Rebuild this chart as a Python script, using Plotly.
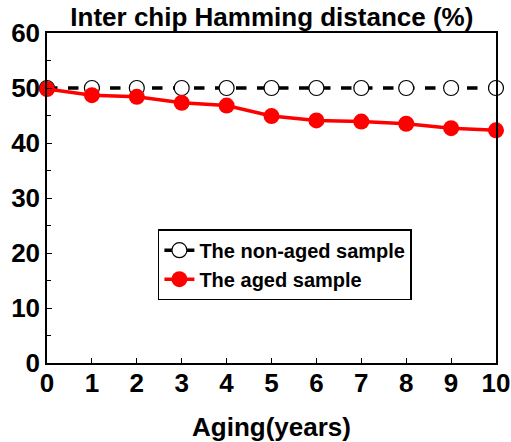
import plotly.graph_objects as go

years = [0, 1, 2, 3, 4, 5, 6, 7, 8, 9, 10]
non_aged = [50, 50, 50, 50, 50, 50, 50, 50, 50, 50, 50]
aged = [49.8, 48.7, 48.4, 47.3, 46.8, 44.9, 44.1, 43.9, 43.5, 42.7, 42.3]
x_ticks = [0, 1, 2, 3, 4, 5, 6, 7, 8, 9, 10]
y_ticks = [0, 10, 20, 30, 40, 50, 60]

font = "Liberation Sans, Arial, sans-serif"

fig = go.Figure()
fig.add_trace(go.Scatter(
    x=years, y=non_aged, mode="lines+markers", name="<b>The non-aged sample</b>",
    line=dict(color="black", width=3.5, dash="dash"),
    marker=dict(symbol="circle", size=15, color="white", line=dict(color="black", width=1.2)),
    cliponaxis=False,
))
fig.add_trace(go.Scatter(
    x=years, y=aged, mode="lines+markers", name="<b>The aged sample</b>",
    line=dict(color="#ff0000", width=3.5),
    marker=dict(symbol="circle", size=16, color="#ff0000"),
    cliponaxis=False,
))

fig.update_layout(
    width=511, height=442,
    margin=dict(l=47, r=15, t=33, b=79, autoexpand=False),
    paper_bgcolor="white", plot_bgcolor="white",
    font=dict(family=font, color="black"),
    title=dict(text="<b>Inter chip Hamming distance (%)</b>", x=0.532, xanchor="center",
               yref="container", y=0.962, yanchor="middle", pad=dict(t=0, b=0),
               font=dict(size=26, family=font)),
    showlegend=True,
    legend=dict(x=0.247, y=0.298, xanchor="left", yanchor="middle",
                bordercolor="black", borderwidth=1.5, bgcolor="white",
                font=dict(size=20, family=font), tracegroupgap=0, itemwidth=30),
    xaxis=dict(range=[0, 10], tickmode="array", tickvals=x_ticks,
               ticktext=[f"<b>{v}</b>" for v in x_ticks],
               ticks="inside", ticklen=5, tickwidth=1.2, tickcolor="black",
               ticklabelstandoff=-4,
               showline=True, linecolor="black", linewidth=1.5, mirror=True,
               showgrid=False, zeroline=False, tickfont=dict(size=26), automargin=False,
               title=dict(text="<b>Aging(years)</b>", font=dict(size=26), standoff=21)),
    yaxis=dict(range=[0, 60], tickmode="array", tickvals=y_ticks,
               ticktext=[f"<b>{v}</b>" for v in y_ticks],
               ticks="inside", ticklen=5, tickwidth=1.2, tickcolor="black",
               minor=dict(tickvals=[5, 15, 25, 35, 45, 55], ticks="inside", ticklen=4, tickcolor="black"),
               showline=True, linecolor="black", linewidth=1.5, mirror=True,
               showgrid=False, zeroline=False, tickfont=dict(size=26), automargin=False),
)

fig.write_html("out.html", config={"displayModeBar": False},
               post_script="document.body.style.margin='0';")
